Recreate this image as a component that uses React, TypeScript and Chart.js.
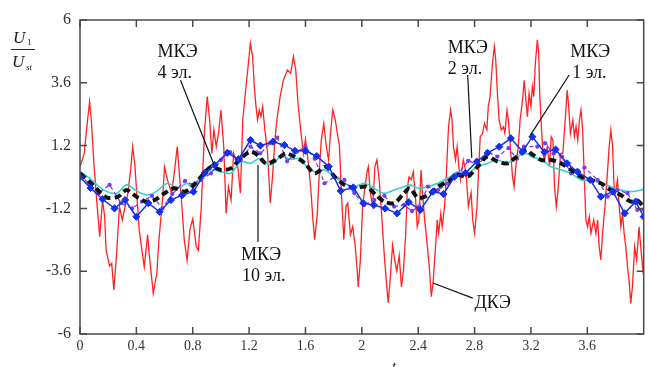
import React, { useEffect, useRef } from "react";
import { Chart, registerables } from "chart.js";
Chart.register(...registerables);

const xTicks = [0, 0.4, 0.8, 1.2, 1.6, 2, 2.4, 2.8, 3.2, 3.6];
const yTicks = [-6, -3.6, -1.2, 1.2, 3.6, 6];

// ДКЭ (red)
const redT = [0,0.03,0.05,0.068,0.08,0.1,0.12,0.14,0.16,0.175,0.185,0.21,0.225,0.24,0.26,0.28,0.3,0.34,0.36,0.374,0.39,0.42,0.456,0.48,0.49,0.52,0.545,0.56,0.585,0.6,0.62,0.65,0.67,0.69,0.72,0.74,0.76,0.78,0.8,0.825,0.84,0.861,0.884,0.903,0.92,0.936,0.95,0.967,0.983,1.0,1.02,1.037,1.053,1.072,1.09,1.12,1.138,1.155,1.178,1.195,1.209,1.225,1.237,1.249,1.26,1.272,1.284,1.296,1.312,1.331,1.35,1.366,1.383,1.397,1.42,1.444,1.472,1.495,1.514,1.531,1.547,1.566,1.585,1.6,1.618,1.637,1.653,1.665,1.684,1.7,1.712,1.73,1.747,1.764,1.778,1.794,1.811,1.825,1.841,1.853,1.872,1.888,1.9,1.919,1.935,1.952,1.966,1.975,1.989,2.006,2.022,2.037,2.046,2.06,2.077,2.093,2.107,2.123,2.14,2.158,2.177,2.187,2.201,2.218,2.234,2.248,2.265,2.281,2.295,2.311,2.323,2.335,2.351,2.365,2.382,2.393,2.405,2.42,2.43,2.446,2.465,2.48,2.493,2.505,2.52,2.535,2.545,2.56,2.57,2.587,2.6,2.615,2.63,2.64,2.65,2.665,2.676,2.688,2.7,2.72,2.74,2.756,2.775,2.787,2.8,2.817,2.83,2.84,2.857,2.87,2.887,2.897,2.91,2.927,2.94,2.95,2.962,2.974,2.99,3.005,3.015,3.03,3.04,3.057,3.069,3.08,3.095,3.11,3.123,3.14,3.152,3.164,3.175,3.187,3.2,3.21,3.22,3.231,3.245,3.255,3.262,3.274,3.285,3.297,3.316,3.332,3.344,3.356,3.367,3.38,3.391,3.41,3.426,3.443,3.457,3.466,3.48,3.497,3.508,3.52,3.532,3.544,3.555,3.567,3.579,3.59,3.602,3.614,3.626,3.645,3.661,3.673,3.684,3.696,3.708,3.725,3.739,3.755,3.767,3.779,3.79,3.8,3.814,3.826,3.838,3.85,3.861,3.873,3.885,3.896,3.908,3.92,3.936,3.95,3.967,3.983,3.997,4.0];
const redV = [0.39,0.9,2.0,2.88,2.2,0.4,-1.0,-2.28,-0.9,-1.5,-2.8,-3.4,-3.3,-4.32,-2.92,-1.13,-1.64,-0.62,0.3,1.16,0.4,-2.03,-3.43,-2.2,-2.9,-4.45,-3.68,-2.41,-0.9,0.39,-0.1,-0.62,0.2,1.16,-0.9,-2.41,-3.2,-2.0,-1.6,-2.66,-2.8,-1.1,1.8,3.07,2.18,0.9,1.8,1.16,1.67,2.56,1.16,-1.39,-0.37,-0.88,0.9,0.39,-0.62,2.18,3.45,4.34,5.11,4.6,3.45,2.69,2.18,2.56,2.31,2.69,1.8,0.9,-1.0,0.01,1.41,2.18,3.07,3.71,4.09,3.96,4.6,4.09,2.81,1.8,0.9,1.45,0.65,-0.4,-1.64,-2.4,-1.4,0.4,1.4,2.05,1.2,0.65,1.7,2.56,2.2,1.7,1.2,-0.4,-2.4,-1.1,-1.0,-2.2,-1.9,-2.6,-3.5,-4.2,-3.2,-1.1,-0.4,0.2,0.4,-0.6,-1.1,0.4,0.65,-0.1,-1.4,-2.9,-4.2,-4.8,-3.9,-2.6,-3.2,-3.6,-3.0,-4.2,-3.6,-2.2,-0.4,0.0,-0.1,0.2,-0.9,-1.9,-1.64,0.27,-0.6,-1.64,-2.66,-3.55,-4.57,-4.06,-2.9,-1.64,-2.15,-1.4,-1.9,-1.13,0.14,1.92,2.56,2.18,1.16,0.65,1.16,0.4,-0.1,0.65,0.14,-1.13,-0.6,-1.64,-2.15,-1.13,0.4,1.54,1.67,2.05,1.8,2.69,3.07,4.34,4.98,4.47,3.2,2.18,1.8,1.92,1.67,2.56,2.18,0.9,0.01,-0.37,0.52,1.16,2.18,2.94,3.7,2.94,2.3,3.2,2.69,3.45,3.07,4.34,5.24,4.73,3.2,1.92,0.9,0.65,1.16,0.4,1.54,1.41,-0.37,-1.13,-0.6,0.9,0.9,2.18,3.32,2.82,1.67,2.18,1.54,1.92,1.41,2.18,2.56,1.8,-0.11,-1.64,-1.9,-1.52,-2.15,-1.64,-2.15,-1.64,-2.66,-3.17,-2.15,-1.13,-0.11,1.16,1.8,1.16,-0.37,-0.6,-0.11,-1.13,-1.9,-1.4,-2.15,-2.66,-3.43,-3.94,-4.83,-4.2,-2.66,-3.17,-1.9,-2.92,-3.68,-3.43];

// МКЭ 10 эл. (cyan)
const cyanT = [0,0.08,0.17,0.26,0.33,0.41,0.48,0.54,0.62,0.69,0.76,0.79,0.86,0.93,1.0,1.07,1.14,1.21,1.27,1.355,1.425,1.495,1.566,1.6,1.665,1.735,1.806,1.876,1.947,2.017,2.088,2.158,2.229,2.299,2.34,2.405,2.469,2.54,2.61,2.68,2.75,2.82,2.89,2.962,3.03,3.1,3.17,3.2,3.274,3.344,3.415,3.485,3.555,3.626,3.696,3.767,3.838,3.908,3.98,4.0];
const cyanV = [0.2,-0.1,-0.5,-0.62,-0.3,-0.56,-0.69,-0.56,-0.24,-0.43,-0.24,-0.37,0.01,0.27,0.2,0.14,0.59,0.52,0.7,0.46,0.78,0.68,0.71,0.45,0.2,0.27,0.0,-0.24,-0.37,-0.24,-0.43,-0.62,-0.5,-0.37,-0.3,-0.43,-0.37,-0.24,-0.05,0.2,0.14,0.39,0.52,0.65,0.52,0.78,0.9,0.78,0.65,0.39,0.27,0.14,-0.11,-0.11,-0.24,-0.37,-0.5,-0.56,-0.5,-0.45];

// МКЭ 4 эл. (black dashed)
const blackT = [0,0.08,0.15,0.2,0.27,0.33,0.4,0.47,0.53,0.6,0.67,0.74,0.79,0.86,0.93,1.0,1.07,1.14,1.21,1.26,1.32,1.39,1.46,1.52,1.566,1.6,1.665,1.745,1.806,1.876,1.947,2.03,2.1,2.158,2.229,2.299,2.34,2.4,2.469,2.54,2.61,2.68,2.75,2.82,2.89,2.962,3.03,3.1,3.17,3.2,3.274,3.344,3.415,3.485,3.555,3.626,3.696,3.767,3.838,3.908,3.95,4.0];
const blackV = [0.14,-0.24,-0.62,-0.8,-0.75,-0.5,-0.75,-0.94,-0.88,-0.62,-0.43,-0.56,-0.4,0.01,0.39,0.27,0.33,0.71,0.97,0.84,0.52,0.65,0.9,0.78,0.65,0.5,0.14,0.39,0.01,-0.3,-0.43,-0.37,-0.69,-0.94,-1.0,-0.62,-0.43,-0.8,-0.69,-0.37,-0.18,0.08,0.01,0.39,0.78,0.59,0.52,0.78,1.03,0.9,0.65,0.65,0.52,0.27,0.01,-0.11,-0.24,-0.5,-0.69,-0.94,-0.88,-1.13];

// МКЭ 1 эл. (blue, diamonds)
const blueT = [0,0.075,0.16,0.245,0.32,0.4,0.485,0.565,0.645,0.725,0.805,0.885,0.955,1.045,1.125,1.21,1.28,1.37,1.45,1.525,1.6,1.68,1.765,1.85,1.94,2.01,2.085,2.165,2.25,2.333,2.415,2.505,2.58,2.657,2.735,2.816,2.892,2.975,3.057,3.14,3.21,3.295,3.375,3.457,3.53,3.62,3.696,3.782,3.865,3.943,4.0];
const blueV = [0.0,-0.42,-0.85,-1.2,-0.88,-1.52,-1.0,-1.33,-0.88,-0.69,-0.56,0.15,0.46,0.92,0.68,1.41,1.2,1.35,1.22,1.0,1.0,0.8,0.4,-0.53,-0.4,-1.0,-1.07,-1.2,-1.39,-0.96,-1.26,-0.56,-0.65,0.01,0.15,0.59,0.92,1.16,1.48,0.97,1.54,0.95,1.05,0.52,0.2,-0.11,-0.75,-0.56,-1.39,-0.94,-1.52];

// МКЭ 2 эл. (purple dashed)
const purpleT = [0,0.06,0.13,0.21,0.29,0.37,0.44,0.51,0.585,0.655,0.745,0.8,0.86,0.93,1.0,1.065,1.14,1.21,1.28,1.35,1.4,1.47,1.54,1.6,1.665,1.735,1.806,1.876,1.947,2.017,2.088,2.16,2.229,2.3,2.355,2.405,2.469,2.54,2.61,2.68,2.755,2.83,2.89,2.962,3.04,3.1,3.15,3.245,3.3,3.36,3.42,3.485,3.58,3.673,3.744,3.814,3.885,3.955,4.0];
const purpleV = [0.1,-0.24,-0.62,-0.3,-1.0,-1.2,-0.94,-0.72,-1.2,-0.65,-0.15,-0.3,-0.11,0.14,0.65,0.95,0.65,1.16,0.9,1.3,1.5,0.6,0.97,1.16,0.7,-0.24,0.0,-0.11,-0.62,-1.07,-0.88,-0.72,-1.13,-1.07,-1.3,-1.13,-0.37,-0.5,-0.25,0.1,0.62,0.45,0.97,0.78,1.1,0.7,1.16,1.16,1.29,0.9,0.78,0.14,0.36,-0.11,-0.75,-0.5,-0.62,-1.26,-1.26];

// Labels with leader lines (data coordinates)
const notes = [
  { lines: ["МКЭ", "4 эл."], x: 0.55, y: 4.6, indent: 0, from: [0.713, 3.7], to: [0.952, 0.46] },
  { lines: ["МКЭ", "2 эл."], x: 2.61, y: 4.74, indent: 0, from: [2.751, 3.9], to: [2.78, 0.73] },
  { lines: ["МКЭ", "1 эл."], x: 3.478, y: 4.59, indent: 2, from: [3.471, 3.9], to: [3.196, 1.6] },
  { lines: ["МКЭ", "10 эл."], x: 1.143, y: -3.17, indent: 1, from: [1.263, -2.48], to: [1.263, 0.46] },
  { lines: ["ДКЭ"], x: 2.8, y: -5.0, indent: 0, from: [2.504, -4.05], to: [2.787, -4.63] },
];

const pts = (t: number[], v: number[]) => t.map((x, i) => ({ x, y: v[i] }));
const SERIF = "'Liberation Serif', 'Times New Roman', serif";

const decor = {
  id: "decor",
  afterDatasetsDraw(chart: any) {
    const { ctx, chartArea: a, scales } = chart;
    const xs = scales.x, ys = scales.y;
    ctx.save();
    // frame
    ctx.strokeStyle = "#4a4a4a";
    ctx.lineWidth = 1.5;
    ctx.strokeRect(a.left, a.top, a.right - a.left, a.bottom - a.top);
    const L = 7;
    ctx.beginPath();
    for (const t of xTicks) {
      const px = xs.getPixelForValue(t);
      ctx.moveTo(px, a.bottom); ctx.lineTo(px, a.bottom - L);
      ctx.moveTo(px, a.top); ctx.lineTo(px, a.top + L);
    }
    for (const v of yTicks) {
      const py = ys.getPixelForValue(v);
      ctx.moveTo(a.left, py); ctx.lineTo(a.left + L, py);
      ctx.moveTo(a.right, py); ctx.lineTo(a.right - L, py);
    }
    ctx.stroke();
    // annotations
    ctx.strokeStyle = "#111";
    ctx.lineWidth = 1.2;
    ctx.fillStyle = "#111";
    ctx.font = `18px ${SERIF}`;
    ctx.textBaseline = "alphabetic";
    ctx.textAlign = "left";
    for (const n of notes) {
      ctx.beginPath();
      ctx.moveTo(xs.getPixelForValue(n.from[0]), ys.getPixelForValue(n.from[1]));
      ctx.lineTo(xs.getPixelForValue(n.to[0]), ys.getPixelForValue(n.to[1]));
      ctx.stroke();
      const bx = xs.getPixelForValue(n.x);
      const by = ys.getPixelForValue(n.y);
      n.lines.forEach((s, i) => ctx.fillText(s, bx + (i > 0 ? n.indent : 0), by + i * 21));
    }
    ctx.restore();
  },
  afterDraw(chart: any) {
    const { ctx } = chart;
    ctx.save();
    ctx.fillStyle = "#222";
    ctx.textAlign = "left";
    ctx.textBaseline = "alphabetic";
    // y title: U1 / Ust
    ctx.font = `italic 17px ${SERIF}`;
    ctx.fillText("U", 13, 43);
    ctx.fillText("U", 12, 67);
    ctx.font = `9px ${SERIF}`;
    ctx.fillText("1", 27, 45);
    ctx.font = `italic 9px ${SERIF}`;
    ctx.fillText("st", 26, 70);
    ctx.strokeStyle = "#222";
    ctx.lineWidth = 1;
    ctx.beginPath();
    ctx.moveTo(11, 49.5);
    ctx.lineTo(35, 49.5);
    ctx.stroke();
    // x title
    ctx.font = `italic 15px ${SERIF}`;
    ctx.fillText("t", 392, 371);
    ctx.restore();
  },
};

export default function App() {
  const ref = useRef<HTMLCanvasElement | null>(null);
  useEffect(() => {
    if (!ref.current) return;
    const chart = new Chart(ref.current, {
      type: "line",
      data: {
        datasets: [
          {
            label: "МКЭ 1 эл.",
            data: pts(blueT, blueV),
            borderColor: "#1430e8",
            backgroundColor: "#1430e8",
            borderWidth: 1.5,
            pointStyle: "rectRot",
            pointRadius: 3.6,
            pointBorderWidth: 1,
            tension: 0,
          },
          {
            label: "МКЭ 4 эл.",
            data: pts(blackT, blackV),
            borderColor: "#111111",
            borderWidth: 4,
            borderDash: [7, 4],
            pointRadius: 0,
            tension: 0.3,
          },
          {
            label: "МКЭ 2 эл.",
            data: pts(purpleT, purpleV),
            borderColor: "#7a3cf0",
            backgroundColor: "#7a3cf0",
            borderWidth: 1.3,
            borderDash: [4, 3],
            pointRadius: 1.5,
            tension: 0,
          },
          {
            label: "МКЭ 10 эл.",
            data: pts(cyanT, cyanV),
            borderColor: "#2fd3d3",
            borderWidth: 1.6,
            pointRadius: 0,
            tension: 0.3,
          },
          {
            label: "ДКЭ",
            data: pts(redT, redV),
            borderColor: "#ff2222",
            borderWidth: 1.3,
            pointRadius: 0,
            tension: 0,
          },
        ],
      },
      options: {
        responsive: false,
        animation: false,
        devicePixelRatio: 1,
        layout: { padding: { top: 20, right: 2, left: 0, bottom: 0 } },
        plugins: { legend: { display: false }, tooltip: { enabled: false } },
        scales: {
          x: {
            type: "linear",
            min: 0,
            max: 4,
            afterBuildTicks: (s: any) => { s.ticks = xTicks.map((value) => ({ value })); },
            afterFit: (s: any) => { s.height = 33; },
            grid: { display: false, drawTicks: false },
            border: { display: false },
            ticks: {
              autoSkip: false,
              maxRotation: 0,
              padding: 4,
              color: "#333",
              font: { family: SERIF, size: 14 },
              callback: (v: any) => String(Number(Number(v).toFixed(1))),
            },
          },
          y: {
            type: "linear",
            min: -6,
            max: 6,
            afterBuildTicks: (s: any) => { s.ticks = yTicks.map((value) => ({ value })); },
            afterFit: (s: any) => { s.width = 80; },
            grid: { display: false, drawTicks: false },
            border: { display: false },
            ticks: {
              padding: 9,
              color: "#333",
              font: { family: SERIF, size: 16 },
              callback: (v: any) => String(Number(Number(v).toFixed(1))),
            },
          },
        },
      },
      plugins: [decor],
    });
    return () => chart.destroy();
  }, []);
  return (
    <div style={{ position: "fixed", left: 0, top: 0, width: 649, height: 367, background: "#fff" }}>
      <canvas ref={ref} width={649} height={367} style={{ display: "block" }} />
    </div>
  );
}
